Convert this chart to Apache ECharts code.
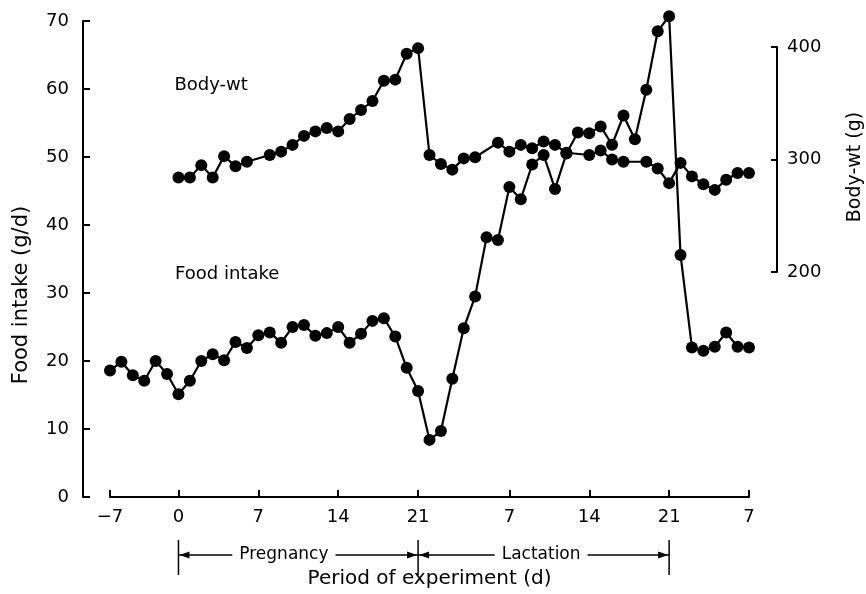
<!DOCTYPE html>
<html><head><meta charset="utf-8">
<script src="https://cdn.jsdelivr.net/npm/echarts@6/dist/echarts.min.js"></script>
<style>html,body{margin:0;padding:0;background:#fff}#c{width:866px;height:594px}</style>
</head><body><div id="c"></div>
<script>
// ---- data ----
const days = [-6,-5,-4,-3,-2,-1,0,1,2,3,4,5,6,7,8,9,10,11,12,13,14,15,16,17,18,19,20,21,
  22,23,24,25,26,27,28,29,30,31,32,33,34,35,36,37,38,39,40,41,42,43,44,45,46,47,48,49,50];
const foodIntake = [18.6,19.9,17.9,17.1,20.0,18.1,15.1,17.1,20.0,21.0,20.1,22.8,21.9,23.8,24.2,22.7,25.0,25.3,23.7,24.1,25.0,22.7,24.0,25.9,26.3,23.6,19.0,15.6,
  8.4,9.7,17.4,24.8,29.5,38.2,37.8,45.6,43.8,48.9,50.3,45.3,50.5,53.6,53.5,54.5,51.8,56.1,52.6,59.9,68.5,70.7,35.6,22.0,21.5,22.1,24.2,22.1,22.0];
const bodyWt = [null,null,null,null,null,null,284,284,295,284,303,294,298,null,304,307,313,321,325,328,325,336,344,352,370,371,394,399,
  304,296,291,301,302,null,315,307,313,310,316,313,306,null,304,308,300,298,null,298,292,279,297,285,278,273,282,288,288];
const xTickDays = [-6,0,7,14,21,29,36,43,50];
const xTickLabels = ['\u22127','0','7','14','21','7','14','21','7'];
const phases = [
  {name:'Pregnancy', start:0, end:21},
  {name:'Lactation', start:21, end:43}
];
const seriesLabels = [
  {text:'Body-wt', day:-0.35, food:60.6},
  {text:'Food intake', day:-0.3, food:32.8}
];

const FONT = '"DejaVu Sans", "Liberation Sans", sans-serif';
const chart = echarts.init(document.getElementById('c'), null, {renderer:'canvas'});

const lineSeries = (data, xi, yi) => ({
  type:'line', data, xAxisIndex:xi, yAxisIndex:yi,
  symbol:'circle', symbolSize:12, showSymbol:true,
  lineStyle:{color:'#000', width:2.2}, itemStyle:{color:'#000'},
  clip:false, connectNulls:true, animation:false, silent:true
});

chart.setOption({
  animation:false,
  backgroundColor:'#fff',
  grid:[
    {left:110, right:117, top:21, bottom:97},
    {left:110, right:117, top:47, bottom:322}
  ],
  xAxis:[
    {type:'value', gridIndex:0, min:-6, max:50,
     axisLine:{show:true, onZero:false, lineStyle:{color:'#000', width:2}},
     axisTick:{show:true, inside:true, length:7, customValues:xTickDays, lineStyle:{color:'#000', width:2}},
     axisLabel:{customValues:xTickDays, formatter:v => xTickLabels[xTickDays.indexOf(v)],
       color:'#000', fontSize:18, fontFamily:FONT, margin:11},
     splitLine:{show:false},
     name:'Period of experiment (d)', nameLocation:'middle', nameGap:72,
     nameTextStyle:{color:'#000', fontSize:20, fontFamily:FONT}},
    {type:'value', gridIndex:1, min:-6, max:50, show:false, axisLine:{onZero:false}}
  ],
  yAxis:[
    {type:'value', gridIndex:0, min:0, max:70, interval:10, position:'left', offset:27,
     axisLine:{show:true, onZero:false, lineStyle:{color:'#000', width:2}},
     axisTick:{show:true, inside:true, length:7, lineStyle:{color:'#000', width:2}},
     axisLabel:{color:'#000', fontSize:18, fontFamily:FONT, margin:14},
     splitLine:{show:false}},
    {type:'value', gridIndex:1, min:200, max:400, interval:100, position:'right', offset:28,
     axisLine:{show:true, onZero:false, lineStyle:{color:'#000', width:2}},
     axisTick:{show:true, inside:true, length:6, lineStyle:{color:'#000', width:2}},
     axisLabel:{color:'#000', fontSize:18, fontFamily:FONT, margin:10},
     splitLine:{show:false}}
  ],
  series:[
    lineSeries(days.map((d,i)=>[d, foodIntake[i]]), 0, 0),
    lineSeries(days.map((d,i)=>[d, bodyWt[i]]).filter(p => p[1] != null), 1, 1)
  ]
});

// ---- annotations placed through the axes' scales ----
const px = d => chart.convertToPixel({xAxisIndex:0}, d);
const py = v => chart.convertToPixel({yAxisIndex:0}, v);
const ctx = document.createElement('canvas').getContext('2d');
const measure = (t, size) => { ctx.font = size + 'px ' + FONT; return ctx.measureText(t).width; };

const g = [];
const yTop = 540, yBot = 575, yArr = 555, ah = 10, aw = 3.5;
const labelFrac = [0.44, 0.49];
const bounds = [...new Set(phases.flatMap(p => [p.start, p.end]))];
bounds.forEach(b => {
  const x = px(b);
  g.push({type:'line', shape:{x1:x, y1:yTop, x2:x, y2:yBot}, style:{stroke:'#000', lineWidth:1.5}});
});
phases.forEach((p, i) => {
  const x1 = px(p.start), x2 = px(p.end), cx = x1 + (x2 - x1) * labelFrac[i];
  const w = measure(p.name, 17);
  g.push({type:'text', x:cx, y:yArr, style:{text:p.name, fill:'#000', font:'17px ' + FONT, align:'center', verticalAlign:'middle'}});
  g.push({type:'line', shape:{x1:x1, y1:yArr, x2:cx - w/2 - 7, y2:yArr}, style:{stroke:'#000', lineWidth:1.5}});
  g.push({type:'line', shape:{x1:cx + w/2 + 7, y1:yArr, x2:x2, y2:yArr}, style:{stroke:'#000', lineWidth:1.5}});
  g.push({type:'polygon', shape:{points:[[x1+1, yArr],[x1+1+ah, yArr-aw],[x1+1+ah, yArr+aw]]}, style:{fill:'#000'}});
  g.push({type:'polygon', shape:{points:[[x2-1, yArr],[x2-1-ah, yArr-aw],[x2-1-ah, yArr+aw]]}, style:{fill:'#000'}});
});
seriesLabels.forEach(l => {
  g.push({type:'text', x:px(l.day), y:py(l.food), style:{text:l.text, fill:'#000', font:'18px ' + FONT, align:'left', verticalAlign:'middle'}});
});
g.push({type:'text', x:22, y:295, rotation:Math.PI/2, style:{text:'Food intake (g/d)', fill:'#000', font:'21px ' + FONT, align:'center', verticalAlign:'middle'}});
g.push({type:'text', x:855, y:167, rotation:Math.PI/2, style:{text:'Body-wt (g)', fill:'#000', font:'19px ' + FONT, align:'center', verticalAlign:'middle'}});
chart.setOption({graphic:{elements:g}});
</script>
</body></html>
